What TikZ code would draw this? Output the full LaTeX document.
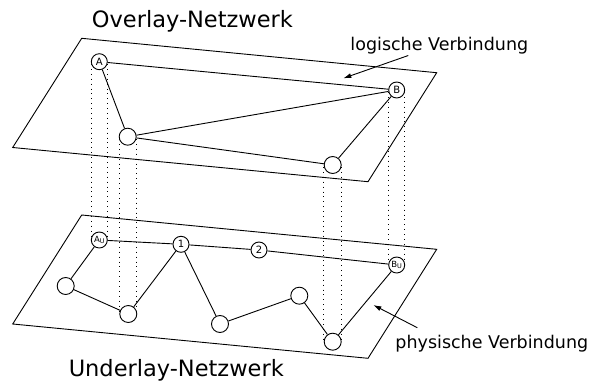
\documentclass[tikz,border=0pt]{standalone}
\usepackage{fontspec}
\setmainfont{DejaVu Sans}
\usetikzlibrary{arrows.meta}
\begin{document}
\begin{tikzpicture}[x=1pt,y=-1pt,
  line width=0.9pt,
  plane/.style={draw,line width=0.9pt},
  nd/.style={circle,draw,fill=white,inner sep=0pt,minimum size=17pt,line width=0.9pt},
  lnd/.style={circle,draw,fill=white,inner sep=0pt,minimum size=16pt,line width=0.9pt,font=\fontsize{10}{10}\selectfont},
  proj/.style={line width=0.9pt,dash pattern=on 0.9pt off 4pt},
  title/.style={anchor=base west,inner sep=0pt,font=\fontsize{22.5}{26}\selectfont},
  lbl/.style={anchor=base west,inner sep=0pt,font=\fontsize{17.5}{20}\selectfont},
  arr/.style={-{Latex[length=8pt,width=5pt]},line width=0.9pt}
]
\useasboundingbox (0,0) rectangle (590,383);
% planes
\draw[plane] (81.7,38.3) -- (436.7,72.7) -- (368,181.7) -- (12.7,147.5) -- cycle;
\draw[plane] (81.7,215) -- (436.7,249.3) -- (368,358.3) -- (12.7,324) -- cycle;
% projection lines
\draw[proj] (91.3,64) -- (91.3,238);
\draw[proj] (107.3,64) -- (107.3,238);
\draw[proj] (119,139) -- (119,312);
\draw[proj] (136.8,139) -- (136.8,312);
\draw[proj] (323.8,167) -- (323.8,340);
\draw[proj] (341.6,167) -- (341.6,340);
\draw[proj] (388.7,92) -- (388.7,263);
\draw[proj] (404.7,92) -- (404.7,263);
% overlay nodes
\node[lnd] (A) at (99.3,61.7) {A};
\node[lnd] (B) at (396.7,90) {B};
\node[nd] (C) at (127.7,136.7) {};
\node[nd] (D) at (332.7,165) {};
\draw (A) -- (B);
\draw (A) -- (C);
\draw (C) -- (B);
\draw (C) -- (D);
\draw (D) -- (B);
% underlay nodes
\node[lnd] (Au) at (99.3,240) {\fontsize{8.5}{8.5}\selectfont A\raisebox{-0.35ex}{\fontsize{6.5}{6.5}\selectfont U}};
\node[lnd] (n1) at (181,244.3) {1};
\node[lnd] (n2) at (259,250) {2};
\node[lnd] (Bu) at (396.7,265) {\fontsize{8.5}{8.5}\selectfont B\raisebox{-0.35ex}{\fontsize{6.5}{6.5}\selectfont U}};
\node[nd] (u1) at (65.7,286) {};
\node[nd] (u2) at (128.3,314) {};
\node[nd] (u3) at (220,324) {};
\node[nd] (u4) at (299.3,295.7) {};
\node[nd] (u5) at (332.7,341.7) {};
\draw (Au) -- (n1);
\draw (n1) -- (n2);
\draw (n2) -- (Bu);
\draw (Au) -- (u1);
\draw (u1) -- (u2);
\draw (u2) -- (n1);
\draw (n1) -- (u3);
\draw (u3) -- (u4);
\draw (u4) -- (u5);
\draw (u5) -- (Bu);
% labels
\node[title] (ov) at (91.5,27) {Overlay-Netzwerk};
\node[title] (un) at (68.3,376) {Underlay-Netzwerk};
\node[lbl] (lv) at (350,50.7) {logische Verbindung};
\node[lbl] (pv) at (395,348.3) {physische Verbindung};
\coordinate (lvs) at (408.3,55.5);
\coordinate (lve) at (343.3,78.3);
\coordinate (pvs) at (417.3,327.7);
\coordinate (pve) at (373.3,305);
\draw[arr] (lvs) -- (lve);
\draw[arr] (pvs) -- (pve);
\end{tikzpicture}
\end{document}
